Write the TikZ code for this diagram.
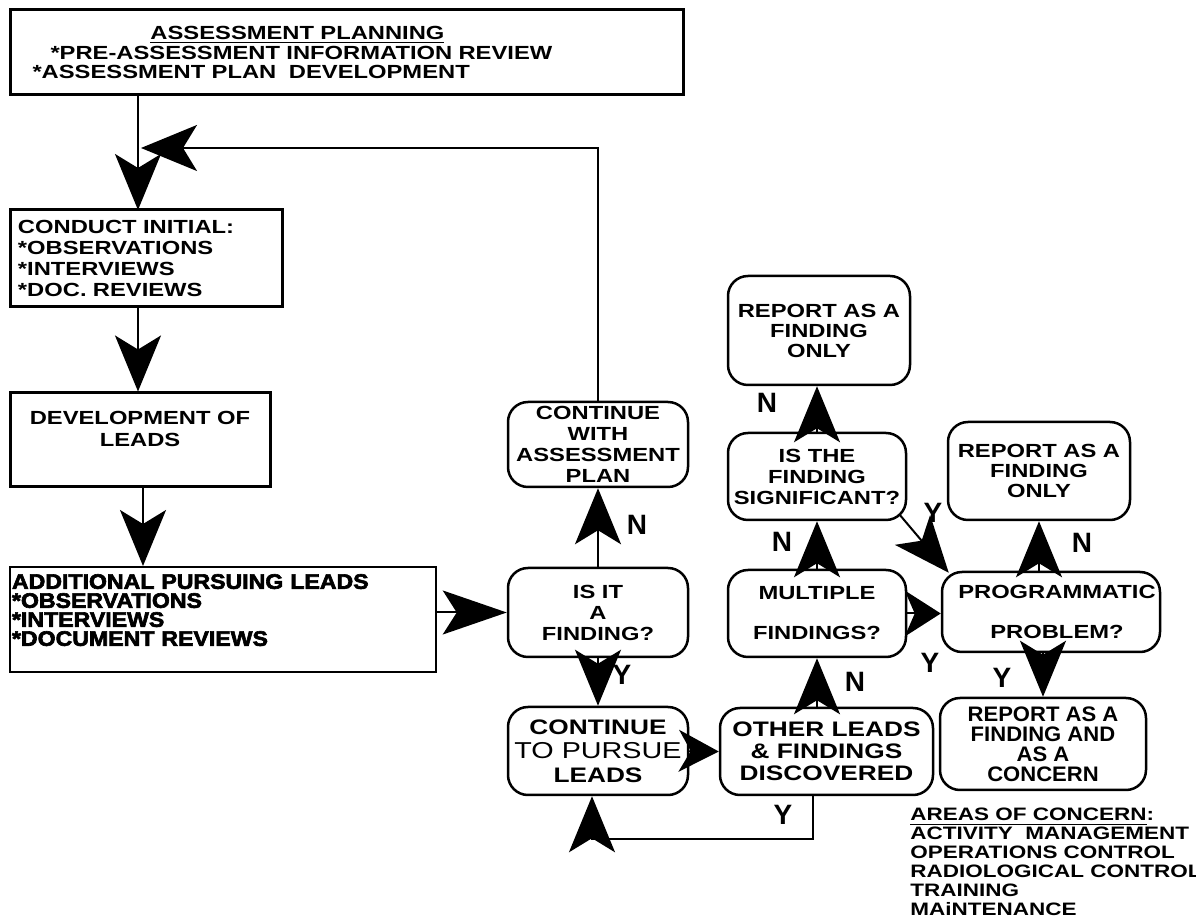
\documentclass[tikz,border=0pt]{standalone}
\usepackage{fontspec}
\setmainfont{Liberation Sans}[FakeStretch=1.25]
\newfontfamily\heavyfont{Liberation Sans}[FakeStretch=1.1,FakeBold=3]
\newfontfamily\narrowfont{Liberation Sans}[FakeStretch=1.05]
\newfontfamily\labelfont{Liberation Sans}
\usetikzlibrary{arrows.meta}

\begin{document}
\begin{tikzpicture}[x=0.5pt,y=-0.5pt,
    sqbox/.style={draw, line width=1.5pt, inner sep=0pt},
    rbox/.style={draw, line width=1.25pt, rounded corners=10pt, inner sep=0pt, align=center,
        font=\bfseries\fontsize{9.5}{10.5}\selectfont},
    arr/.style={line width=1pt, -{Stealth[length=28pt, width=23pt, inset=7pt]}},
    yn/.style={font=\labelfont\bfseries\fontsize{14}{14}\selectfont, inner sep=0pt}]
    \useasboundingbox (0,0) rectangle (1196,924);

    % Left column
    \node[sqbox, minimum width=336.5pt, minimum height=42.5pt, inner xsep=8.25pt, text width=320pt,
        align=left, font=\bfseries\fontsize{9.5}{9.8}\selectfont] (plan) at (346.5,52.5)
        {\hspace*{62pt}\underline{ASSESSMENT PLANNING}\\
         \hspace*{12pt}*PRE-ASSESSMENT INFORMATION REVIEW\\
         \hspace*{3pt}*ASSESSMENT PLAN\ \ DEVELOPMENT};
    \node[sqbox, minimum width=136pt, minimum height=48.5pt, inner xsep=4pt, text width=128pt,
        align=left, font=\bfseries\fontsize{9.5}{10.4}\selectfont] (conduct) at (146,258.5)
        {CONDUCT INITIAL:\\{*}OBSERVATIONS\\{*}INTERVIEWS\\{*}DOC. REVIEWS};
    \node[sqbox, minimum width=130pt, minimum height=47pt, align=center,
        font=\bfseries\fontsize{9.5}{11}\selectfont] (dev) at (140,440)
        {DEVELOPMENT OF\\LEADS\\\mbox{}};
    \node[sqbox, line width=1pt, minimum width=213pt, minimum height=52.5pt, inner xsep=1pt,
        text width=211pt, align=left, font=\heavyfont\bfseries\fontsize{10.5}{9.5}\selectfont] (add) at (223,619.5)
        {ADDITIONAL PURSUING LEADS\\{*}OBSERVATIONS\\{*}INTERVIEWS\\{*}DOCUMENT REVIEWS\\\mbox{}};

    % Decision boxes
    \node[rbox, minimum width=90pt, minimum height=42.5pt] (contwith) at (598,444.5)
        {CONTINUE\\WITH\\ASSESSMENT\\PLAN};
    \node[rbox, minimum width=90pt, minimum height=44.5pt] (isit) at (598,612.5)
        {IS IT\\A\\FINDING?};
    \node[rbox, minimum width=90pt, minimum height=44pt, font=\bfseries\fontsize{10.5}{12}\selectfont] (ctp) at (598,751)
        {CONTINUE\\{\mdseries\fontsize{11.5}{12}\selectfont TO PURSUE}\\LEADS};
    \node[rbox, minimum width=106.5pt, minimum height=43.5pt, font=\bfseries\fontsize{10.5}{11}\selectfont] (other) at (826.5,751.5)
        {OTHER LEADS\\\& FINDINGS\\DISCOVERED};
    \node[rbox, minimum width=89pt, minimum height=43.5pt] (multi) at (817,613.5)
        {MULTIPLE\\[9.5pt]FINDINGS?};
    \node[rbox, minimum width=89pt, minimum height=43.5pt] (isthe) at (817,476.5)
        {IS THE\\FINDING\\SIGNIFICANT?};
    \node[rbox, minimum width=91pt, minimum height=54.5pt, font=\bfseries\fontsize{9.5}{10}\selectfont] (rep1) at (819,330.5)
        {REPORT AS A\\FINDING\\ONLY};
    \node[rbox, minimum width=109pt, minimum height=40pt] (prog) at (1051,612)
        {\hspace*{6pt}PROGRAMMATIC\\[9.5pt]\hspace*{6pt}PROBLEM?};
    \node[rbox, minimum width=91pt, minimum height=49pt, font=\bfseries\fontsize{9.5}{10}\selectfont] (rep2) at (1039,471)
        {REPORT AS A\\FINDING\\ONLY};
    \node[rbox, minimum width=103pt, minimum height=46pt, font=\narrowfont\bfseries\fontsize{10.5}{10}\selectfont] (rep3) at (1043,744)
        {REPORT AS A\\FINDING AND\\AS A\\CONCERN};

    % Areas of concern
    \node[anchor=north west, inner sep=0pt, align=left, font=\bfseries\fontsize{9}{9.5}\selectfont] (areas) at (910,808)
        {\underline{AREAS OF CONCERN}:\\ACTIVITY\ \ MANAGEMENT\\OPERATIONS CONTROL\\RADIOLOGICAL CONTROL\\TRAINING\\MAiNTENANCE};

    % Connectors
    \coordinate (spine) at (138,210);
    \coordinate (back) at (141,148);
    \draw[arr] (spine |- plan.south) -- (spine);
    \draw[arr] (contwith.north) |- (back);
    \draw[arr] (spine |- conduct.south) -- (spine |- dev.north);
    \draw[arr] ([xshift=1.5pt]dev.south) -- ([xshift=1.5pt]dev.south |- add.north);
    \draw[line width=1pt, -{Stealth[length=32pt, width=22pt, inset=7pt]}] (add.east |- isit.west) -- (isit.west);
    \draw[arr] (isit.north) -- (contwith.south);
    \draw[arr] (isit.south) -- (ctp.north);
    \draw[line width=1pt, -{Stealth[length=20pt, width=21pt, inset=6pt]}] (ctp.east) -- (other.west);
    \draw[arr] ([xshift=-7pt]other.south) -- ++(0,43) -| ([xshift=-3pt]ctp.south);
    \draw[arr] (other.north -| multi.south) -- (multi.south);
    \draw[arr] (multi.north) -- (isthe.south);
    \draw[arr] (isthe.north) -- (isthe.north |- rep1.south);
    \draw[arr] ([shift={(-8,-7)}]isthe.south east) -- ([shift={(8,2)}]prog.north west);
    \draw[line width=1pt, -{Stealth[length=18pt, width=23pt, inset=5pt]}] (multi.east) -- (multi.east -| prog.west);
    \draw[arr] (prog.north -| rep2.south) -- (rep2.south);
    \draw[arr] (prog.south -| rep3.north) -- (rep3.north);

    % Y / N labels
    \node[yn] (n1) at (637,525) {N};
    \node[yn] (y1) at (622,675) {Y};
    \node[yn] (y2) at (783,815) {Y};
    \node[yn] (n2) at (855,682) {N};
    \node[yn] (n3) at (782,542) {N};
    \node[yn] (n4) at (767,403) {N};
    \node[yn] (y3) at (933,513) {Y};
    \node[yn] (y4) at (930,663) {Y};
    \node[yn] (n5) at (1082,543) {N};
    \node[yn] (y5) at (1002,678) {Y};
\end{tikzpicture}
\end{document}
